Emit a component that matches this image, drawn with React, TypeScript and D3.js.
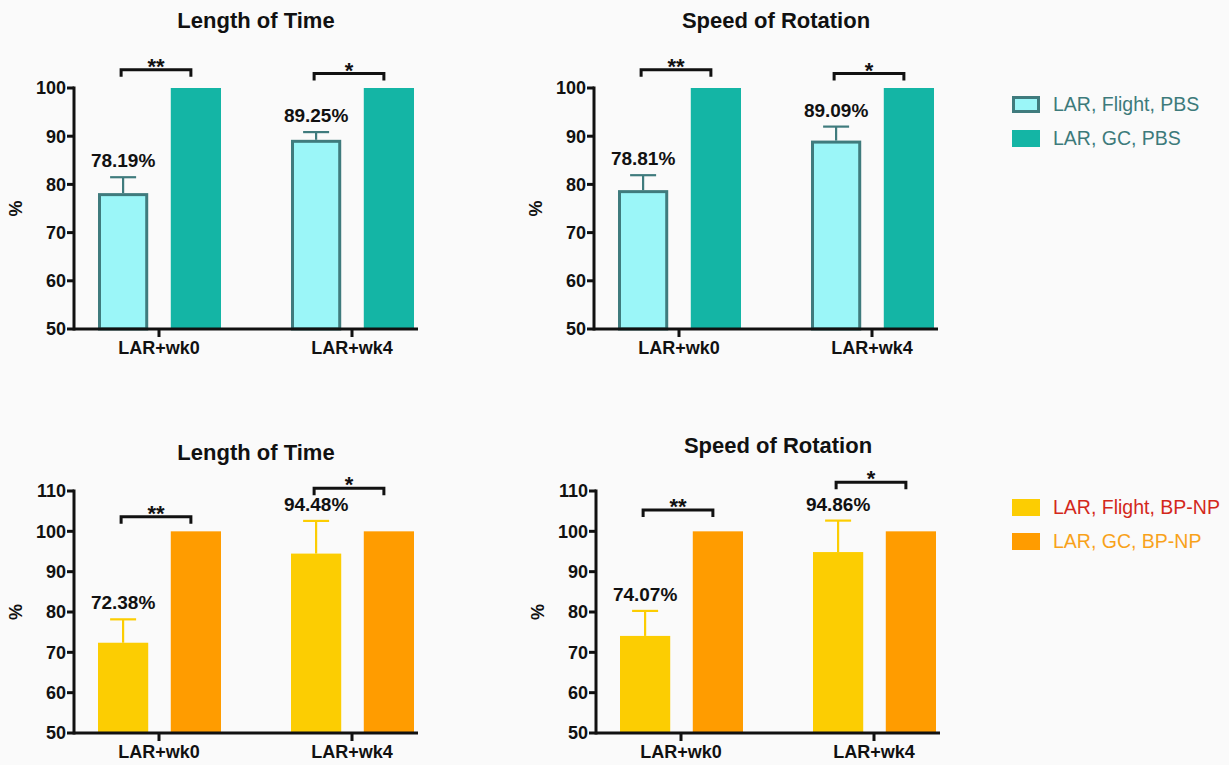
import React from 'react';
import * as d3 from 'd3';

// categories and series
const categories = ['LAR+wk0', 'LAR+wk4'];
const series = ['flight', 'gc'];

// PBS, length of time
const pbsTimeFlight = [78.19, 89.25];
const pbsTimeFlightErr = [3.3, 1.6];
const pbsTimeGC = [100, 100];
// PBS, speed of rotation
const pbsRotFlight = [78.81, 89.09];
const pbsRotFlightErr = [3.1, 2.9];
const pbsRotGC = [100, 100];
// BP-NP, length of time
const npTimeFlight = [72.38, 94.48];
const npTimeFlightErr = [5.8, 8.1];
const npTimeGC = [100, 100];
// BP-NP, speed of rotation
const npRotFlight = [74.07, 94.86];
const npRotFlightErr = [6.2, 7.8];
const npRotGC = [100, 100];

const sigMarks = ['**', '*'];
const pbsBracketLevels = [103.8, 103.0];
const npTimeBracketLevels = [103.6, 110.7];
const npRotBracketLevels = [105.3, 112.2];

const pbsTicks = [50, 60, 70, 80, 90, 100];
const npTicks = [50, 60, 70, 80, 90, 100, 110];

const legendPBS = ['LAR, Flight, PBS', 'LAR, GC, PBS'];
const legendNP = ['LAR, Flight, BP-NP', 'LAR, GC, BP-NP'];

const FONT = 'Liberation Sans, Arial, Helvetica, sans-serif';

type PanelProps = {
  title: string;
  titleY: number;
  axisX: number;
  yTop: number;
  yBottom: number;
  domain: [number, number];
  ticks: number[];
  flight: number[];
  flightErr: number[];
  gc: number[];
  brackets: number[];
  flightFill: string;
  flightStroke: string | null;
  errColor: string;
  gcFill: string;
};

const Panel = (p: PanelProps) => {
  const y = d3.scaleLinear().domain(p.domain).range([p.yBottom, p.yTop]);
  const x = d3
    .scaleBand<string>()
    .domain(categories)
    .range([p.axisX - 11.5, p.axisX + 374.5])
    .padding(0);
  const inner = d3
    .scaleBand<string>()
    .domain(series)
    .range([35.5, 158.5])
    .paddingInner(0.31)
    .paddingOuter(0);
  const bw = inner.bandwidth();
  const axisEnd = p.axisX + 344;
  const sw = p.flightStroke ? 3 : 0;

  return (
    <g>
      <text
        x={p.axisX + 182}
        y={p.titleY}
        textAnchor="middle"
        fontFamily={FONT}
        fontWeight="bold"
        fontSize={22}
        fill="#111"
      >
        {p.title}
      </text>

      {/* bars */}
      {categories.map((c, i) => {
        const x0 = (x(c) as number) + (inner('flight') as number);
        const x1 = (x(c) as number) + (inner('gc') as number);
        const cx = x0 + bw / 2;
        const capY = y(p.flight[i] + p.flightErr[i]);
        const by = y(p.brackets[i]);
        const bx0 = cx - 2;
        const bx1 = x1 + bw / 2 - 5;
        return (
          <g key={c}>
            <line x1={cx} x2={cx} y1={y(p.flight[i])} y2={capY} stroke={p.errColor} strokeWidth={2.2} />
            <line x1={cx - 13} x2={cx + 13} y1={capY} y2={capY} stroke={p.errColor} strokeWidth={2.2} />
            <rect
              x={x0 + sw / 2}
              y={y(p.flight[i]) + sw / 2}
              width={bw - sw}
              height={y(p.domain[0]) - y(p.flight[i]) - sw / 2}
              fill={p.flightFill}
              stroke={p.flightStroke || 'none'}
              strokeWidth={sw}
            />
            <rect
              x={x1}
              y={y(p.gc[i])}
              width={bw}
              height={y(p.domain[0]) - y(p.gc[i])}
              fill={p.gcFill}
            />
            <text
              x={cx}
              y={capY - 10}
              textAnchor="middle"
              fontFamily={FONT}
              fontWeight="bold"
              fontSize={19}
              fill="#111"
            >
              {p.flight[i].toFixed(2)}%
            </text>
            {/* significance bracket */}
            <path
              d={`M${bx0},${by + 7}V${by}H${bx1}V${by + 7}`}
              fill="none"
              stroke="#111"
              strokeWidth={3}
            />
            <text
              x={(bx0 + bx1) / 2}
              y={by + 4}
              textAnchor="middle"
              fontFamily={FONT}
              fontWeight="bold"
              fontSize={22}
              fill="#111"
            >
              {sigMarks[i]}
            </text>
          </g>
        );
      })}

      {/* y axis */}
      <line x1={p.axisX} x2={p.axisX} y1={p.yTop - 1.5} y2={p.yBottom + 1.5} stroke="#111" strokeWidth={3} />
      {p.ticks.map((t) => (
        <g key={t}>
          <line x1={p.axisX - 7} x2={p.axisX} y1={y(t)} y2={y(t)} stroke="#111" strokeWidth={3} />
          <text
            x={p.axisX - 8}
            y={y(t)}
            dy="0.36em"
            textAnchor="end"
            fontFamily={FONT}
            fontWeight="bold"
            fontSize={18}
            fill="#111"
          >
            {t}
          </text>
        </g>
      ))}
      <text
        transform={`translate(${p.axisX - 58},${(p.yTop + p.yBottom) / 2}) rotate(-90)`}
        textAnchor="middle"
        dy="0.36em"
        fontFamily={FONT}
        fontWeight="bold"
        fontSize={18}
        fill="#111"
      >
        %
      </text>

      {/* x axis */}
      <line x1={p.axisX} x2={axisEnd} y1={p.yBottom} y2={p.yBottom} stroke="#111" strokeWidth={3} />
      {categories.map((c) => {
        const cx = (x(c) as number) + x.bandwidth() / 2;
        return (
          <g key={c}>
            <line x1={cx} x2={cx} y1={p.yBottom} y2={p.yBottom + 8} stroke="#111" strokeWidth={3} />
            <text
              x={cx}
              y={p.yBottom + 25}
              textAnchor="middle"
              fontFamily={FONT}
              fontWeight="bold"
              fontSize={18}
              fill="#111"
            >
              {c}
            </text>
          </g>
        );
      })}
    </g>
  );
};

const Legend = ({ x, y, labels, colors, fills, strokes }: {
  x: number; y: number; labels: string[]; colors: string[]; fills: string[]; strokes: (string | null)[];
}) => (
  <g>
    {labels.map((l, i) => (
      <g key={l} transform={`translate(${x},${y + i * 34})`}>
        <rect
          x={strokes[i] ? 1.5 : 0}
          y={strokes[i] ? 1.5 : 0}
          width={strokes[i] ? 25 : 28}
          height={strokes[i] ? 14 : 17}
          fill={fills[i]}
          stroke={strokes[i] || 'none'}
          strokeWidth={3}
        />
        <text x={41} y={15} fontFamily={FONT} fontSize={19.5} fill={colors[i]}>
          {l}
        </text>
      </g>
    ))}
  </g>
);

export default function App() {
  const cyan = '#9bf6f8';
  const cyanStroke = '#3f7b7d';
  const teal = '#14b5a5';
  const yellow = '#fccd02';
  const orange = '#ff9c00';
  return (
    <svg
      width={1229}
      height={765}
      style={{ position: 'absolute', left: 0, top: 0, background: '#fafafa' }}
    >
      <Panel
        title="Length of Time" titleY={28} axisX={74} yTop={88} yBottom={329}
        domain={[50, 100]} ticks={pbsTicks}
        flight={pbsTimeFlight} flightErr={pbsTimeFlightErr} gc={pbsTimeGC}
        brackets={pbsBracketLevels}
        flightFill={cyan} flightStroke={cyanStroke} errColor={cyanStroke} gcFill={teal}
      />
      <Panel
        title="Speed of Rotation" titleY={28} axisX={594} yTop={88} yBottom={329}
        domain={[50, 100]} ticks={pbsTicks}
        flight={pbsRotFlight} flightErr={pbsRotFlightErr} gc={pbsRotGC}
        brackets={pbsBracketLevels}
        flightFill={cyan} flightStroke={cyanStroke} errColor={cyanStroke} gcFill={teal}
      />
      <Panel
        title="Length of Time" titleY={460} axisX={74} yTop={491} yBottom={733}
        domain={[50, 110]} ticks={npTicks}
        flight={npTimeFlight} flightErr={npTimeFlightErr} gc={npTimeGC}
        brackets={npTimeBracketLevels}
        flightFill={yellow} flightStroke={null} errColor={yellow} gcFill={orange}
      />
      <Panel
        title="Speed of Rotation" titleY={453} axisX={596} yTop={491} yBottom={733}
        domain={[50, 110]} ticks={npTicks}
        flight={npRotFlight} flightErr={npRotFlightErr} gc={npRotGC}
        brackets={npRotBracketLevels}
        flightFill={yellow} flightStroke={null} errColor={yellow} gcFill={orange}
      />
      <Legend
        x={1012} y={96} labels={legendPBS}
        colors={['#3d7a7b', '#3d7a7b']} fills={[cyan, teal]} strokes={[cyanStroke, null]}
      />
      <Legend
        x={1012} y={499} labels={legendNP}
        colors={['#d3281b', '#f8a21a']} fills={[yellow, orange]} strokes={[null, null]}
      />
    </svg>
  );
}
